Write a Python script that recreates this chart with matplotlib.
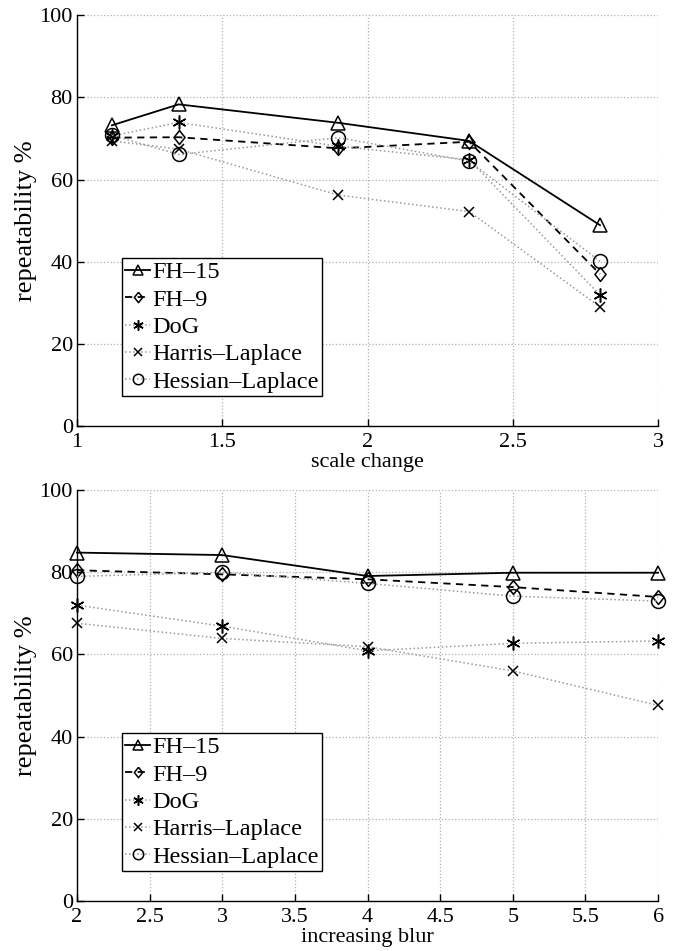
import matplotlib
matplotlib.use("Agg")
import matplotlib.pyplot as plt

plt.rcParams['font.family'] = ['Liberation Serif', 'DejaVu Serif']
plt.rcParams['font.size'] = 16

# scale-change experiment
scale_x = [1.12, 1.35, 1.9, 2.35, 2.8]
scale_fh15 = [73.2, 78.3, 73.8, 69.4, 48.9]
scale_fh9 = [70.2, 70.3, 67.6, 69.2, 37.0]
scale_dog = [70.6, 73.9, 68.1, 64.8, 31.9]
scale_harris = [69.4, 67.4, 56.2, 52.2, 29.0]
scale_hessian = [70.8, 66.1, 70.2, 64.5, 40.1]

# blur experiment
blur_x = [2, 3, 4, 5, 6]
blur_fh15 = [84.8, 84.2, 79.1, 79.9, 79.9]
blur_fh9 = [80.5, 79.5, 78.3, 76.4, 74.0]
blur_dog = [72.0, 66.9, 60.9, 62.7, 63.3]
blur_harris = [67.6, 63.9, 61.9, 56.0, 47.6]
blur_hessian = [79.0, 80.0, 77.3, 74.2, 73.0]

labels = ['FH\u201315', 'FH\u20139', 'DoG', 'Harris\u2013Laplace', 'Hessian\u2013Laplace']

diamond = [(0, 1), (0.8, 0), (0, -1), (-0.8, 0), (0, 1)]
styles = [
    dict(color='black', ls='-', lw=1.3, marker='^', ms=10),
    dict(color='black', ls=(0, (4, 3)), lw=1.3, marker=diamond, ms=10),
    dict(color='#999999', ls=':', lw=1.1, marker=(6, 2, 0), ms=10),
    dict(color='#999999', ls=':', lw=1.1, marker='x', ms=7),
    dict(color='#999999', ls=':', lw=1.1, marker='o', ms=10),
]

fig = plt.figure(figsize=(6.78, 9.51), dpi=100)
ax1 = fig.add_axes([0.1136, 0.552, 0.857, 0.432])
ax2 = fig.add_axes([0.1136, 0.0526, 0.857, 0.432])


def draw(ax, x, series, xlim, xticks, xlabel):
    for ys, st, lab in zip(series, styles, labels):
        ax.plot(x, ys, color=st['color'], ls=st['ls'], lw=st['lw'],
                marker=st['marker'], ms=st['ms'], mfc='none', mec='black',
                mew=1.1, label=lab, clip_on=False, zorder=3)
    ax.set_xlim(*xlim)
    ax.set_ylim(0, 100)
    ax.set_xticks(xticks)
    ax.set_xticklabels([('%g' % t) for t in xticks])
    ax.set_yticks(range(0, 101, 20))
    ax.grid(True, color='#b0b0b0', ls=':', lw=0.9)
    ax.set_axisbelow(True)
    for s in ('top', 'right'):
        ax.spines[s].set_visible(False)
    for s in ('left', 'bottom'):
        ax.spines[s].set_linewidth(1.0)
    ax.tick_params(direction='in', length=5, width=1.0, pad=3, labelsize=16)
    ax.tick_params(axis='x', pad=5)
    ax.set_xlabel(xlabel, fontsize=16, labelpad=1)
    ax.set_ylabel('repeatability %', fontsize=19, labelpad=2)
    leg = ax.legend(loc='lower left', bbox_to_anchor=(0.077, 0.072),
                    handlelength=1.0, handletextpad=0.1, labelspacing=0.22,
                    borderpad=0.15, borderaxespad=0.0, fancybox=False,
                    framealpha=1, edgecolor='black', fontsize=17.5,
                    markerscale=0.75)
    leg.get_frame().set_linewidth(1.0)


draw(ax1, scale_x, [scale_fh15, scale_fh9, scale_dog, scale_harris, scale_hessian],
     (1, 3), [1, 1.5, 2, 2.5, 3], 'scale change')
draw(ax2, blur_x, [blur_fh15, blur_fh9, blur_dog, blur_harris, blur_hessian],
     (2, 6), [2, 2.5, 3, 3.5, 4, 4.5, 5, 5.5, 6], 'increasing blur')

fig.savefig('out.png', dpi=100)
